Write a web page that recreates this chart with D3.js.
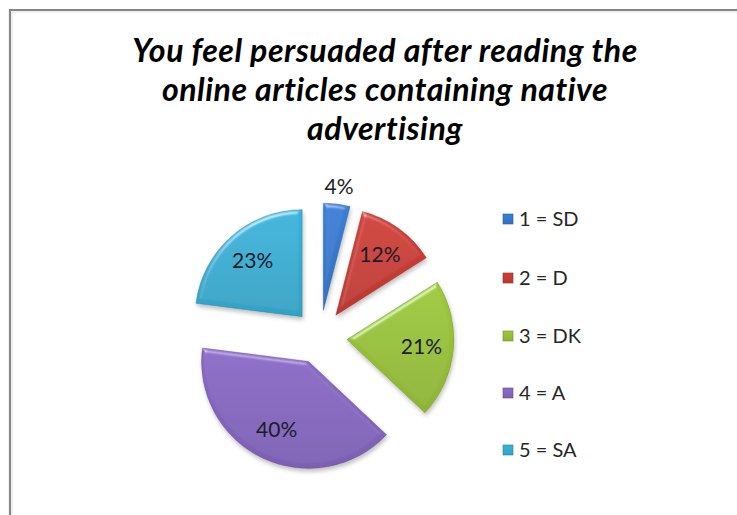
<!DOCTYPE html>
<html>
<head>
<meta charset="utf-8">
<script src="https://cdn.jsdelivr.net/npm/d3@7"></script>
<style>
  html, body { margin: 0; padding: 0; background: #fff; overflow: hidden; }
  svg { display: block; }
</style>
</head>
<body>
<script>
// Survey responses on native advertising persuasion
const titleLines = ["You feel persuaded after reading the", "online articles containing native", "advertising"];
const categories = ["1 = SD", "2 = D", "3 = DK", "4 = A", "5 = SA"];
const values = [4, 12, 21, 40, 23];
const colors = ["#3576c8", "#c23a33", "#93bb35", "#8163b9", "#35a8cb"];

const W = 737, H = 515;
const svg = d3.select("body").append("svg").attr("width", W).attr("height", H)
  .style("overflow", "hidden");
const defs = svg.append("defs");

// Chart area frame (top and left edges fall inside the view)
svg.append("path").attr("d", `M10,${H + 5}V10H${W + 5}`)
  .attr("fill", "none").attr("stroke", "#858585").attr("stroke-width", 2.2);
svg.append("path").attr("d", `M12,${H + 5}V12H${W + 5}`)
  .attr("fill", "none").attr("stroke", "#e4e4e4").attr("stroke-width", 1);

// Bevel + soft shadow for slices
const f = defs.append("filter").attr("id", "bevel")
  .attr("x", "-20%").attr("y", "-20%").attr("width", "140%").attr("height", "140%");
f.append("feGaussianBlur").attr("in", "SourceAlpha").attr("stdDeviation", 2.2).attr("result", "blur");
const spec = f.append("feSpecularLighting").attr("in", "blur").attr("surfaceScale", 3)
  .attr("specularConstant", 0.4).attr("specularExponent", 26).attr("lighting-color", "#ffffff")
  .attr("result", "spec");
spec.append("feDistantLight").attr("azimuth", 250).attr("elevation", 36);
f.append("feComposite").attr("in", "spec").attr("in2", "SourceAlpha").attr("operator", "in").attr("result", "specIn");
f.append("feComposite").attr("in", "SourceGraphic").attr("in2", "specIn").attr("operator", "arithmetic")
  .attr("k1", 0).attr("k2", 1).attr("k3", 1).attr("k4", 0).attr("result", "lit");
f.append("feGaussianBlur").attr("in", "SourceAlpha").attr("stdDeviation", 2).attr("result", "sb");
f.append("feOffset").attr("in", "sb").attr("dx", 1).attr("dy", 3).attr("result", "so");
f.append("feFlood").attr("flood-color", "#000").attr("flood-opacity", 0.25).attr("result", "sc");
f.append("feComposite").attr("in", "sc").attr("in2", "so").attr("operator", "in").attr("result", "shadow");
const m = f.append("feMerge");
m.append("feMergeNode").attr("in", "shadow");
m.append("feMergeNode").attr("in", "lit");

// Vertical gradients per category
colors.forEach((c, i) => {
  const g = defs.append("linearGradient").attr("id", "grad" + i)
    .attr("x1", 0).attr("y1", 0).attr("x2", 0).attr("y2", 1);
  g.append("stop").attr("offset", "0%").attr("stop-color", d3.color(c).brighter(0.2));
  g.append("stop").attr("offset", "100%").attr("stop-color", d3.color(c).darker(0.1));
});

// Title
const titleFont = "Lato, 'Open Sans', sans-serif";
const title = svg.append("g").attr("font-family", titleFont).attr("font-weight", 700)
  .attr("font-style", "italic").attr("fill", "#000").attr("text-anchor", "middle");
const titleY = [62, 101, 140];
const tl = title.selectAll("text").data(titleLines).join("text")
  .attr("x", 385).attr("y", (d, i) => titleY[i]).attr("font-size", 26)
  .attr("letter-spacing", 0.5).text(d => d);
const w0 = tl.node().getComputedTextLength();
tl.attr("font-size", 26 * 510 / w0);

// Pie
const cx = 320, cy = 337, R = 107, explode = 27;
const pie = d3.pie().sort(null).value(d => d);
const arcs = pie(values);
const arc = d3.arc().innerRadius(0).outerRadius(R);
const dir = a => { const m = (a.startAngle + a.endAngle) / 2; return [Math.sin(m), -Math.cos(m)]; };

const pg = svg.append("g").attr("transform", `translate(${cx},${cy})`);
pg.selectAll("path").data(arcs).join("path")
  .attr("transform", d => { const [ux, uy] = dir(d); return `translate(${ux * explode},${uy * explode})`; })
  .attr("d", arc)
  .attr("fill", (d, i) => `url(#grad${i})`)
  .attr("stroke", (d, i) => d3.color(colors[i]).darker(0.8))
  .attr("stroke-opacity", 0.55)
  .attr("stroke-width", 0.8)
  .attr("filter", "url(#bevel)");

// Data labels
const labelFont = "Lato, 'Open Sans', sans-serif";
const labelR = d => d.data < 8 ? R + 45 : explode + R * 0.7;
pg.selectAll("text.lbl").data(arcs).join("text").attr("class", "lbl")
  .attr("x", d => dir(d)[0] * labelR(d))
  .attr("y", d => dir(d)[1] * labelR(d))
  .attr("dy", "0.36em").attr("text-anchor", "middle")
  .attr("font-family", labelFont).attr("font-size", 21).attr("fill", "#1c1c28")
  .text(d => d.data + "%");

// Legend
const lg = svg.append("g").attr("font-family", labelFont).attr("font-size", 20).attr("fill", "#262626");
const rowY = [219, 278, 336, 393, 450];
const items = lg.selectAll("g").data(categories).join("g")
  .attr("transform", (d, i) => `translate(503,${rowY[i]})`);
items.append("rect").attr("x", 0).attr("y", -5).attr("width", 10).attr("height", 10)
  .attr("fill", (d, i) => `url(#grad${i})`).attr("stroke", (d, i) => d3.color(colors[i]).darker(0.8))
  .attr("stroke-width", 0.6);
items.append("text").attr("x", 16).attr("dy", "0.36em").text(d => d);
</script>
</body>
</html>
